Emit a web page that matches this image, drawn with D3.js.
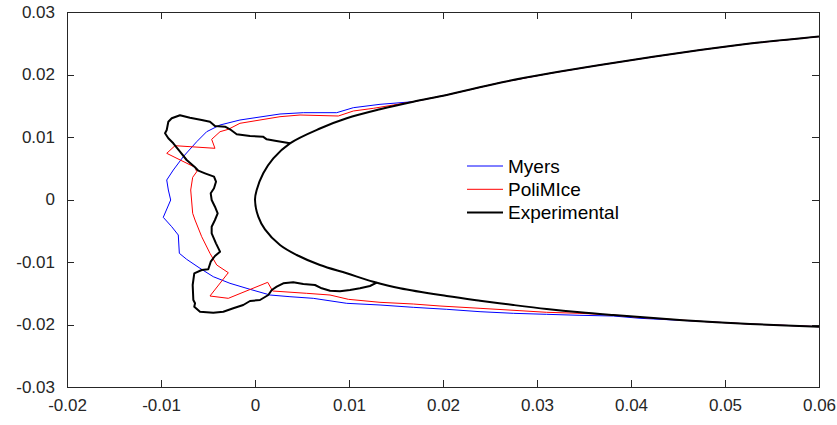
<!DOCTYPE html>
<html>
<head>
<meta charset="utf-8">
<script src="https://cdn.jsdelivr.net/npm/d3@7"></script>
<style>
  body { margin: 0; background: #fff; }
  svg { display: block; font-family: "Liberation Sans", Arial, Helvetica, sans-serif; }
</style>
</head>
<body>
<svg id="chart" width="837" height="425"></svg>
<script>
// Tick values / labels
const xTicks = [-0.02, -0.01, 0, 0.01, 0.02, 0.03, 0.04, 0.05, 0.06];
const xTickLabels = ["-0.02", "-0.01", "0", "0.01", "0.02", "0.03", "0.04", "0.05", "0.06"];
const yTicks = [-0.03, -0.02, -0.01, 0, 0.01, 0.02, 0.03];
const yTickLabels = ["-0.03", "-0.02", "-0.01", "0", "0.01", "0.02", "0.03"];

// Surface commune (extrados, de x=0.06 vers le bord d'attaque)
const upperSurface = [
  [0.06, 0.02608], [0.05266, 0.02496], [0.04734, 0.02392], [0.04202, 0.02275],
  [0.03670, 0.02152], [0.03138, 0.02019], [0.02606, 0.01869], [0.02039, 0.01672],
  [0.01684, 0.01565]
];
const lowerSurfaceEnd = [[0.04734, -0.01949], [0.05266, -0.01992], [0.06, -0.02035]];

// Profil propre (Experimental)
const cleanAirfoil = upperSurface.concat([
  [0.01330, 0.01443], [0.00976, 0.01299], [0.00691, 0.01136], [0.00372, 0.00899],
  [0.00195, 0.00659], [0.00088, 0.00419], [0.00018, 0.00152], [0, 0],
  [0.00035, -0.00275], [0.00106, -0.00477], [0.00266, -0.00728], [0.00444, -0.00888],
  [0.00691, -0.01048], [0.00976, -0.01181], [0.01259, -0.01315], [0.01543, -0.01421],
  [0.02039, -0.01544], [0.02394, -0.01619], [0.02748, -0.01688], [0.03103, -0.01752],
  [0.03457, -0.01805], [0.03812, -0.01848], [0.04202, -0.01891]
], lowerSurfaceEnd);

// Forme de glace expérimentale
const iceExperimental = [
  [0.00372, 0.00899], [0.00213, 0.00941], [0.00125, 0.00963], [0.00085, 0.01005],
  [-0.00053, 0.01016], [-0.00195, 0.01043], [-0.00266, 0.01123], [-0.00319, 0.01165],
  [-0.00426, 0.01176], [-0.00479, 0.01245], [-0.00567, 0.01272], [-0.00692, 0.01309],
  [-0.00798, 0.01347], [-0.00886, 0.01299], [-0.00922, 0.01245], [-0.00939, 0.01112],
  [-0.00957, 0.01059], [-0.00922, 0.00979], [-0.00869, 0.00899], [-0.00798, 0.00765],
  [-0.00727, 0.00632], [-0.00638, 0.00515], [-0.00603, 0.00461], [-0.00532, 0.00419],
  [-0.00436, 0.00365], [-0.00415, 0.00285], [-0.00436, 0.00179], [-0.00471, 0.00099],
  [-0.00461, -0.00008], [-0.00426, -0.00115], [-0.00397, -0.00221], [-0.00426, -0.00328],
  [-0.00461, -0.00435], [-0.00461, -0.00541], [-0.00415, -0.00701], [-0.00372, -0.00835],
  [-0.00426, -0.00904], [-0.00471, -0.00995], [-0.00497, -0.01117], [-0.00567, -0.01128],
  [-0.00646, -0.01181], [-0.00663, -0.01368], [-0.00656, -0.01608], [-0.00638, -0.01661],
  [-0.00646, -0.01715], [-0.00585, -0.01795], [-0.00444, -0.01811], [-0.00337, -0.01795],
  [-0.00231, -0.01741], [-0.00125, -0.01688], [-0.00053, -0.01624], [0.00053, -0.01608],
  [0.00142, -0.01528], [0.00178, -0.01448], [0.00231, -0.01395], [0.00301, -0.01341],
  [0.00407, -0.01325], [0.00514, -0.01352], [0.00638, -0.01368], [0.00710, -0.01421],
  [0.00798, -0.01459], [0.00904, -0.01469], [0.01011, -0.01448], [0.01117, -0.01421],
  [0.01223, -0.01384], [0.01295, -0.01331]
];

// Myers
const myers = upperSurface.concat([
  [0.01330, 0.01523], [0.01046, 0.01469], [0.00869, 0.01389], [0.00514, 0.01389],
  [0.00266, 0.01368], [-0.00160, 0.01272], [-0.00372, 0.01192], [-0.00514, 0.01085],
  [-0.00620, 0.00925], [-0.00763, 0.00685], [-0.00869, 0.00472], [-0.00939, 0.00312],
  [-0.00922, 0.00152], [-0.00897, -0.00008], [-0.00976, -0.00285], [-0.00886, -0.00435],
  [-0.00816, -0.00568], [-0.00805, -0.00861], [-0.00727, -0.00957], [-0.00585, -0.01101],
  [-0.00444, -0.01235], [-0.00266, -0.01341], [-0.00053, -0.01437], [0.00160, -0.01528],
  [0.00372, -0.01555], [0.00620, -0.01581], [0.00976, -0.01661], [0.01330, -0.01688],
  [0.01684, -0.01725], [0.02039, -0.01757], [0.02394, -0.01795], [0.02748, -0.01821],
  [0.03103, -0.01837], [0.03457, -0.01853], [0.03812, -0.01864], [0.04096, -0.01901]
], lowerSurfaceEnd);

// PoliMIce
const poliMIce = upperSurface.concat([
  [0.01471, 0.01512], [0.01259, 0.01459], [0.01046, 0.01416], [0.00886, 0.01336],
  [0.00479, 0.01352], [0.00266, 0.01325], [-0.00160, 0.01219], [-0.00284, 0.01123],
  [-0.00372, 0.01085], [-0.00461, 0.00963], [-0.00426, 0.00819], [-0.00851, 0.00861],
  [-0.00939, 0.00739], [-0.00638, 0.00515], [-0.00620, 0.00445], [-0.00663, 0.00355],
  [-0.00684, 0.00152], [-0.00663, -0.00221], [-0.00638, -0.00328], [-0.00567, -0.00595],
  [-0.00479, -0.00861], [-0.00407, -0.01048], [-0.00284, -0.01171], [-0.00479, -0.01544],
  [-0.00284, -0.01581], [0.00135, -0.01325], [0.00188, -0.01464], [0.00550, -0.01501],
  [0.00798, -0.01528], [0.00993, -0.01597], [0.01330, -0.01645], [0.01684, -0.01672],
  [0.01968, -0.01704], [0.02394, -0.01741], [0.02819, -0.01779], [0.03103, -0.01805],
  [0.03457, -0.01821], [0.03812, -0.01848], [0.04096, -0.01885]
], lowerSurfaceEnd);

const seriesNames = ["Myers", "PoliMIce", "Experimental"];
const seriesColors = ["#0000ff", "#ff0000", "#000000"];

const svg = d3.select("#chart");
const margin = { left: 67, right: 18, top: 12, bottom: 38 };
const W = 837, H = 425;

const x = d3.scaleLinear().domain([-0.02, 0.06]).range([margin.left, W - margin.right]);
const y = d3.scaleLinear().domain([-0.03, 0.03]).range([H - margin.bottom, margin.top]);

const axisColor = "#262626";
const fontSize = 17;

// Axes avec ticks vers l'intérieur (style MATLAB)
const gx = svg.append("g")
  .attr("transform", `translate(0,${y(-0.03)})`)
  .call(d3.axisBottom(x).tickValues(xTicks).tickSizeInner(-7).tickSizeOuter(0)
    .tickPadding(12).tickFormat((d, i) => xTickLabels[i]));
const gy = svg.append("g")
  .attr("transform", `translate(${x(-0.02)},0)`)
  .call(d3.axisLeft(y).tickValues(yTicks).tickSizeInner(-7).tickSizeOuter(0)
    .tickPadding(12).tickFormat((d, i) => yTickLabels[i]));
const gxTop = svg.append("g")
  .attr("transform", `translate(0,${y(0.03)})`)
  .call(d3.axisTop(x).tickValues(xTicks).tickSizeInner(-7).tickSizeOuter(0).tickFormat(""));
const gyRight = svg.append("g")
  .attr("transform", `translate(${x(0.06)},0)`)
  .call(d3.axisRight(y).tickValues(yTicks).tickSizeInner(-7).tickSizeOuter(0).tickFormat(""));

[gx, gy, gxTop, gyRight].forEach(g => {
  g.selectAll("path.domain").attr("stroke", axisColor).attr("shape-rendering", "crispEdges");
  g.selectAll(".tick line").attr("stroke", axisColor).attr("shape-rendering", "crispEdges");
  g.selectAll("text").attr("fill", axisColor).style("font-size", fontSize + "px")
    .style("font-family", '"Liberation Sans", Arial, sans-serif');
});

const line = d3.line().x(d => x(d[0])).y(d => y(d[1]));

const plot = svg.append("g");
plot.append("path").datum(myers).attr("d", line)
  .attr("fill", "none").attr("stroke", seriesColors[0]).attr("stroke-width", 1);
plot.append("path").datum(poliMIce).attr("d", line)
  .attr("fill", "none").attr("stroke", seriesColors[1]).attr("stroke-width", 1);
plot.append("path").datum(cleanAirfoil)
  .attr("d", d3.line().x(d => x(d[0])).y(d => y(d[1])).curve(d3.curveCatmullRom.alpha(0.5)))
  .attr("fill", "none").attr("stroke", seriesColors[2]).attr("stroke-width", 2);
plot.append("path").datum(iceExperimental).attr("d", line)
  .attr("fill", "none").attr("stroke", seriesColors[2]).attr("stroke-width", 2)
  .attr("stroke-linejoin", "round");

// Légende (sans cadre)
const legend = svg.append("g").attr("transform", "translate(467,166)");
seriesNames.forEach((name, i) => {
  const row = legend.append("g").attr("transform", `translate(0,${i * 23.3})`);
  row.append("line").attr("x1", 0).attr("x2", 36).attr("y1", 0).attr("y2", 0)
    .attr("stroke", seriesColors[i]).attr("stroke-width", i === 2 ? 2 : 1);
  row.append("text").attr("x", 41).attr("y", 0).attr("dy", "0.35em")
    .style("font-size", "19px").attr("fill", "#000").text(name);
});
</script>
</body>
</html>
